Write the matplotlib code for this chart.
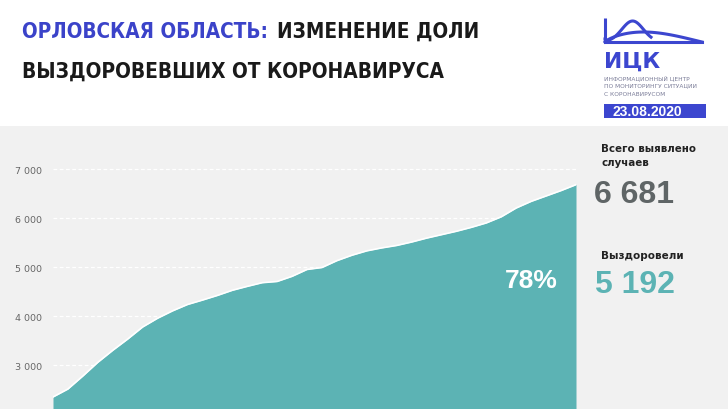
import matplotlib
matplotlib.use("Agg")
import matplotlib.pyplot as plt
import numpy as np
from matplotlib import font_manager as fm
from matplotlib.font_manager import FontProperties
from matplotlib.patches import Rectangle

# ---- data ----
days = list(range(0, 71, 2))
cases = [2347, 2510, 2776, 3055, 3300, 3530, 3776, 3955, 4105, 4235,
         4325, 4420, 4525, 4605, 4680, 4705, 4810, 4950, 4990, 5130,
         5240, 5330, 5390, 5440, 5510, 5590, 5660, 5730, 5810, 5900,
         6025, 6205, 6340, 6450, 6560, 6681]
yticks = [3000, 4000, 5000, 6000, 7000]
ytick_labels = ["3 000", "4 000", "5 000", "6 000", "7 000"]
total_cases = "6 681"
recovered = "5 192"
share = "78%"
date_label = "23.08.2020"
title_blue = "ОРЛОВСКАЯ ОБЛАСТЬ:"
title_black1 = "ИЗМЕНЕНИЕ ДОЛИ"
title_black2 = "ВЫЗДОРОВЕВШИХ ОТ КОРОНАВИРУСА"

# pick a narrow bold font if one exists
def pick_title_font():
    for fam, stretch, key in [("Liberation Sans Narrow", "condensed", "narrow"),
                              ("DejaVu Sans", "condensed", "condensed"),
                              ("Roboto", "normal", "roboto")]:
        fp = FontProperties(family=fam, weight="bold", stretch=stretch)
        try:
            path = fm.findfont(fp, fallback_to_default=False)
        except Exception:
            continue
        if key in str(path).lower():
            return fam, stretch
    return "Liberation Sans", "normal"

tfam, tstretch = pick_title_font()

W, H = 728, 410
fig = plt.figure(figsize=(W / 100, H / 100), dpi=100)
fig.patch.set_facecolor("white")
renderer = fig.canvas.get_renderer()

def fx(px):
    return px / W

def fy(py):
    return 1 - py / H

def fit_text(x0, x1, yc, s, color, base=23, **kw):
    t = fig.text(fx(x0), fy(yc), s, color=color, fontsize=base, va="center",
                 ha="left", **kw)
    w = t.get_window_extent(renderer).width
    t.set_fontsize(base * (x1 - x0) / w)
    return t

# gray panel
fig.patches.append(Rectangle((0, 0), 1, fy(127), transform=fig.transFigure,
                             facecolor="#f1f1f1", edgecolor="none", zorder=-5))

teal = "#5cb3b4"
blue = "#3b43c9"

ax = fig.add_axes([fx(53), 0, fx(576) - fx(53), fy(127)])
ax.set_facecolor("none")
ax.fill_between(days, cases, 0, color=teal, zorder=2, linewidth=0)
ax.plot(days, cases, color="white", lw=1.2, zorder=3)
ax.set_xlim(days[0], days[-1])
ax.set_ylim(2102, 7878)
for v in yticks:
    ax.axhline(v, color="white", lw=0.9, ls=(0, (3, 2)), zorder=1)
ax.set_yticks(yticks)
ax.set_yticklabels(ytick_labels)
ax.tick_params(axis="y", length=0, pad=8, labelsize=6.8, labelcolor="#666666")
ax.set_xticks([])
for s in ax.spines.values():
    s.set_visible(False)

ax.text(0.965, 0.455, share, transform=ax.transAxes, ha="right", va="center",
        color="white", fontsize=19, fontweight="bold", family="Liberation Sans")

# title
tkw = dict(fontweight="bold", family=tfam, fontstretch=tstretch)
fit_text(22, 268, 32, title_blue, blue, **tkw)
fit_text(277, 479, 32, title_black1, "#1a1a1a", **tkw)
fit_text(22, 443, 72, title_black2, "#1a1a1a", **tkw)

# logo
lc = "#3c46cf"
fig.add_artist(plt.Line2D([fx(605), fx(605)], [fy(19), fy(44)], color=lc, lw=2.2,
                          transform=fig.transFigure, solid_capstyle="butt"))
fig.add_artist(plt.Line2D([fx(605), fx(702)], [fy(43), fy(43)], color=lc, lw=2.2,
                          transform=fig.transFigure))
tt = np.linspace(0, 1, 60)
bx = 605 + 46 * tt
by = 43 - 21 * np.exp(-((tt - 0.6) / 0.33) ** 2)
by = np.where(tt < 0.02, 40, by)
fig.add_artist(plt.Line2D(fx(bx), fy(by), color=lc, lw=2.2, transform=fig.transFigure))
cx = 605 + 97 * tt
cy = 43 - 10 * np.sin(np.pi * tt ** 0.75)
fig.add_artist(plt.Line2D(fx(cx), fy(cy), color=lc, lw=2.2, transform=fig.transFigure))
fit_text(604, 660, 62, "ИЦК", lc, base=13, fontweight="bold", family="DejaVu Sans")
for i, line in enumerate(["ИНФОРМАЦИОННЫЙ ЦЕНТР", "ПО МОНИТОРИНГУ СИТУАЦИИ", "С КОРОНАВИРУСОМ"]):
    fig.text(fx(604), fy(78 + 8 * i), line, color="#7a7c98", fontsize=4.2,
             family="DejaVu Sans", va="center", ha="left")
fig.patches.append(Rectangle((fx(604), fy(119)), fx(706) - fx(604), fy(105) - fy(119),
                             transform=fig.transFigure, facecolor=lc, edgecolor="none"))
fig.text(fx(647), fy(112), date_label, color="white", fontsize=10, fontweight="bold",
         family="Liberation Sans", va="center", ha="center")

# right panel
lkw = dict(fontweight="bold", family="DejaVu Sans")
t_all = fit_text(601, 695, 149, "Всего выявлено", "#222222", base=8, **lkw)
fig.text(fx(601), fy(163), "случаев", color="#222222", fontsize=t_all.get_fontsize(),
         va="center", ha="left", **lkw)
fig.text(fx(594), fy(195), total_cases, color="#5f6566", fontsize=23,
         fontweight="bold", family="Liberation Sans", va="center", ha="left")
fit_text(601, 683, 256, "Выздоровели", "#222222", base=8, **lkw)
fig.text(fx(595), fy(285), recovered, color=teal, fontsize=23,
         fontweight="bold", family="Liberation Sans", va="center", ha="left")

fig.savefig("out.png", dpi=100)
